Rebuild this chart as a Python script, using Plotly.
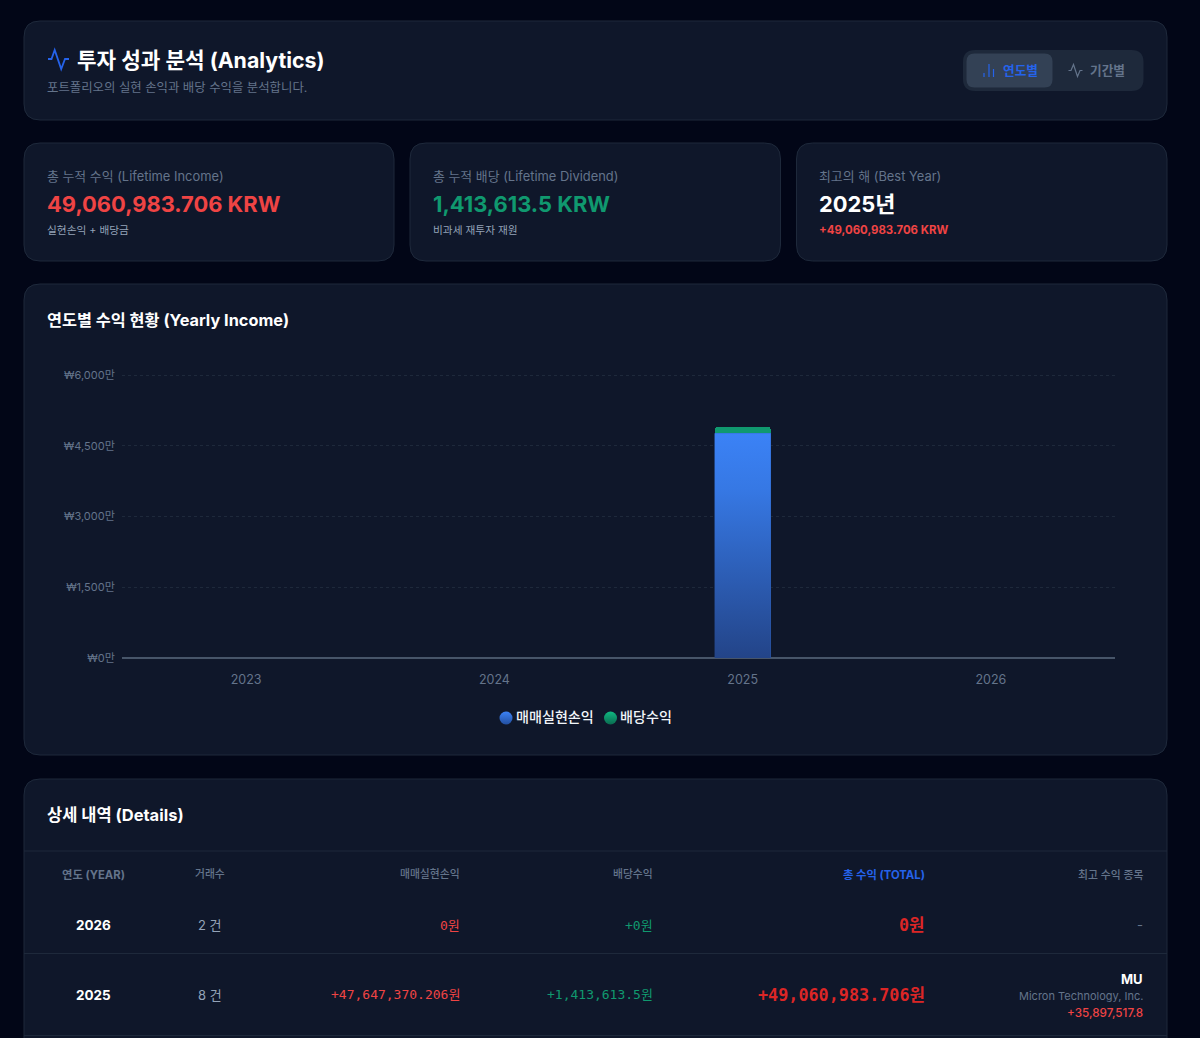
import plotly.graph_objects as go

W, H = 1200, 1038
Y_MAX = 6100
PLOT_L, PLOT_R, PLOT_B = 122, 1115, 658
PLOT_T = 658 - 283 * Y_MAX / 6000

# ---- chart data ----
years = [2023, 2024, 2025, 2026]
realized = [0, 0, 4764.7370206, 0]      # 만원
dividend = [0, 0, 141.36135, 0]         # 만원
y_ticks = [0, 1500, 3000, 4500, 6000]
y_tick_labels = ["₩0만", "₩1,500만", "₩3,000만", "₩4,500만", "₩6,000만"]
series_names = ["매매실현손익", "배당수익"]
BAR_W = 0.226

# ---- page text ----
page_title = "투자 성과 분석 (Analytics)"
page_sub = "포트폴리오의 실현 손익과 배당 수익을 분석합니다."
toggle_labels = ["연도별", "기간별"]
kpi_labels = ["총 누적 수익 (Lifetime Income)", "총 누적 배당 (Lifetime Dividend)", "최고의 해 (Best Year)"]
kpi_values = ["49,060,983.706 KRW", "1,413,613.5 KRW", "2025년"]
kpi_subs = ["실현손익 + 배당금", "비과세 재투자 재원", "+49,060,983.706 KRW"]
chart_title = "연도별 수익 현황 (Yearly Income)"
details_title = "상세 내역 (Details)"
table_headers = ["연도 (YEAR)", "거래수", "매매실현손익", "배당수익", "총 수익 (TOTAL)", "최고 수익 종목"]
table_years = ["2026", "2025"]
table_counts = ["2 건", "8 건"]
table_realized = ["0원", "+47,647,370.206원"]
table_dividend = ["+0원", "+1,413,613.5원"]
table_total = ["0원", "+49,060,983.706원"]
best_ticker = "MU"
best_name = "Micron Technology, Inc."
best_value = "+35,897,517.8"

# ---- colours ----
BG, CARD, BORDER = "#020617", "#0f172a", "#1e293b"
BLUE, GREEN, RED = "#2563eb", "#059669", "#ef4444"
SANS = "Inter, 'Noto Sans CJK KR', sans-serif"
MONO = "'DejaVu Sans Mono', 'Noto Sans CJK KR', monospace"

def fx(x): return x / W
def fy(y): return 1 - y / H

def rrect(x0, y0, x1, y1, r, fill, line=None, lw=1):
    p = (f"M {fx(x0+r)} {fy(y0)} L {fx(x1-r)} {fy(y0)} Q {fx(x1)} {fy(y0)} {fx(x1)} {fy(y0+r)} "
         f"L {fx(x1)} {fy(y1-r)} Q {fx(x1)} {fy(y1)} {fx(x1-r)} {fy(y1)} "
         f"L {fx(x0+r)} {fy(y1)} Q {fx(x0)} {fy(y1)} {fx(x0)} {fy(y1-r)} "
         f"L {fx(x0)} {fy(y0+r)} Q {fx(x0)} {fy(y0)} {fx(x0+r)} {fy(y0)} Z")
    return dict(type="path", xref="paper", yref="paper", path=p, fillcolor=fill,
                line=dict(color=line or fill, width=lw if line else 0), layer="below")

def polyline(pts, color, lw=1.6):
    p = "M " + " L ".join(f"{fx(x)} {fy(y)}" for x, y in pts)
    return dict(type="path", xref="paper", yref="paper", path=p, line=dict(color=color, width=lw), layer="above")

def hline(x0, x1, y, color=BORDER):
    return dict(type="line", xref="paper", yref="paper", x0=fx(x0), x1=fx(x1), y0=fy(y), y1=fy(y),
                line=dict(color=color, width=1), layer="below")

annots = []
def text(x, y, s, size, color, anchor="left", weight=400, family=SANS):
    # annotations carry a 1px inner pad: compensate so the glyphs land on x
    dx = {"left": -1, "right": 1, "center": 0}[anchor]
    annots.append(dict(xref="paper", yref="paper", x=fx(x + dx), y=fy(y), text=s, showarrow=False,
                       xanchor=anchor, yanchor="middle", borderpad=0,
                       font=dict(size=size, color=color, family=family, weight=weight)))

shapes = [
    rrect(24, 21, 1167, 120, 16, CARD, BORDER),
    rrect(24, 143, 394, 261, 16, CARD, BORDER),
    rrect(410, 143, 780.5, 261, 16, CARD, BORDER),
    rrect(796.5, 143, 1167, 261, 16, CARD, BORDER),
    rrect(24, 284, 1167, 755, 16, CARD, BORDER),
    rrect(24, 779, 1167, 1120, 16, CARD, BORDER),
    rrect(963, 50, 1143.5, 91, 12, "#1e293b"),
    rrect(966.5, 53.5, 1052.5, 87.5, 8, "#334155"),
    hline(24, 1167, 851), hline(24, 1167, 953.5), hline(24, 1167, 1035.5),
    polyline([(48, 59), (51.5, 59), (54.7, 50), (61.2, 69), (65, 59), (69, 59)], BLUE, 1.8),
    polyline([(1068.5, 70.5), (1071, 70.5), (1073.5, 64.5), (1077.5, 76.5), (1080, 70.5), (1082.5, 70.5)], "#64748b", 1.2),
    polyline([(984, 73), (984, 77)], BLUE, 1.2),
    polyline([(989, 64), (989, 77)], BLUE, 1.2),
    polyline([(993.5, 69), (993.5, 77)], BLUE, 1.2),
]

# header
text(77, 60, page_title, 21.3, "#ffffff", weight=700)
text(47, 87.5, page_sub, 12.4, "#64748b")
text(1003, 70.5, toggle_labels[0], 12.7, BLUE, weight=700)
text(1090, 70.5, toggle_labels[1], 12.7, "#64748b", weight=700)

# KPI cards
kpi_x = [47, 433, 819]
kpi_colors = [RED, "#10996f", "#ffffff"]
kpi_sub_colors = ["#94a3b8", "#94a3b8", RED]
kpi_sub_sizes = [10.7, 10.7, 11.4]
for i, x in enumerate(kpi_x):
    text(x, 176, kpi_labels[i], 12.9, "#64748b")
    text(x, 204, kpi_values[i], 21.9, kpi_colors[i], weight=700)
    text(x, 230.5, kpi_subs[i], kpi_sub_sizes[i], kpi_sub_colors[i], weight=700 if i == 2 else 400)

# section titles
text(47, 320, chart_title, 16.3, "#ffffff", weight=700)
text(47, 815, details_title, 16.5, "#ffffff", weight=700)

# custom legend labels
text(516, 716.5, series_names[0], 14.1, "#f1f5f9", weight=500)
text(620, 716.5, series_names[1], 14.1, "#f1f5f9", weight=500)

# table
head_x = [93.5, 210, 460, 653, 925, 1143]
head_a = ["center", "center", "right", "right", "right", "right"]
for i, h in enumerate(table_headers):
    text(head_x[i], 874.5, h, 11.3 if i in (0, 4) else 10.8, BLUE if i == 4 else "#64748b", head_a[i],
         weight=700 if i in (0, 4) else 500)
row_y = [925, 994.5]
for i, y in enumerate(row_y):
    text(93.5, y, table_years[i], 13.5, "#ffffff", "center", weight=700)
    text(210, y, table_counts[i], 13, "#94a3b8", "center")
    text(460, y, table_realized[i], 13, RED, "right", family=MONO)
    text(653, y, table_dividend[i], 13, "#10996f", "right", family=MONO)
    text(925, y, table_total[i], 16.8, "#dc2626", "right", weight=700, family=MONO)
text(1143, 925, "-", 13, "#64748b", "right")
text(1143, 979, best_ticker, 13, "#ffffff", "right", weight=700)
text(1143, 996, best_name, 11, "#64748b", "right")
text(1143, 1013, best_value, 11.7, RED, "right", weight=500)

fig = go.Figure()
fig.add_bar(x=years, y=realized, name=series_names[0], width=BAR_W, marker=dict(color="#2c5fb8", line=dict(width=0)),
            showlegend=False)
fig.add_bar(x=years, y=dividend, name=series_names[1], width=BAR_W, marker=dict(color="#10996f", line=dict(width=0)),
            showlegend=False)

# vertical gradient over the non-zero realized bar, sized from the data
for yr, v in zip(years, realized):
    if v > 0:
        fig.add_scatter(x=[yr - BAR_W/2, yr + BAR_W/2, yr + BAR_W/2, yr - BAR_W/2, yr - BAR_W/2],
                        y=[0, 0, v, v, 0], mode="none", fill="toself", hoverinfo="skip", showlegend=False,
                        fillgradient=dict(type="vertical",
                                          colorscale=[[0, "#234488"], [0.75, "#3678e4"], [1, "#3b82f6"]]))

# legend dots on an overlay axis in page pixels
for px, c0, c1, nm in [(506, "#3b82f6", "#234f9f", series_names[0]), (610.5, "#10b981", "#0a6b50", series_names[1])]:
    fig.add_scatter(x=[px], y=[718], mode="markers", xaxis="x2", yaxis="y2", hoverinfo="skip", showlegend=False,
                    name=nm, marker=dict(size=13, color=c0, gradient=dict(type="vertical", color=c1), line=dict(width=0)))

fig.update_layout(
    width=W, height=H, autosize=False, barmode="stack", barcornerradius=4,
    margin=dict(l=0, r=0, t=0, b=0, autoexpand=False), paper_bgcolor=BG, plot_bgcolor="rgba(0,0,0,0)",
    showlegend=False, shapes=shapes, annotations=annots, font=dict(family=SANS),
    xaxis=dict(domain=[fx(PLOT_L), fx(PLOT_R)], range=[2022.5, 2026.5], tickmode="array", tickvals=years,
               ticktext=[str(y) for y in years], showgrid=False, zeroline=False, showline=False,
               ticks="outside", ticklen=10, tickcolor="rgba(0,0,0,0)",
               tickfont=dict(size=12.5, color="#64748b"), fixedrange=True),
    yaxis=dict(domain=[1 - PLOT_B / H, 1 - PLOT_T / H], range=[0, Y_MAX], tickmode="array", tickvals=y_ticks,
               ticktext=y_tick_labels, showgrid=True, griddash="dot", gridcolor="#1e293b", gridwidth=1,
               zeroline=True, zerolinecolor="#475569", zerolinewidth=1.5, showline=False,
               ticks="outside", ticklen=4, tickcolor="rgba(0,0,0,0)",
               tickfont=dict(size=11, color="#64748b"), fixedrange=True),
    xaxis2=dict(domain=[0, 1], range=[0, W], visible=False, anchor="y2", fixedrange=True),
    yaxis2=dict(domain=[0, 1], range=[H, 0], visible=False, anchor="x2", fixedrange=True),
)

fig.write_html("out.html", config=dict(displayModeBar=False),
               post_script="document.body.style.margin='0';document.body.style.background='#020617';document.documentElement.style.overflow='hidden';")
